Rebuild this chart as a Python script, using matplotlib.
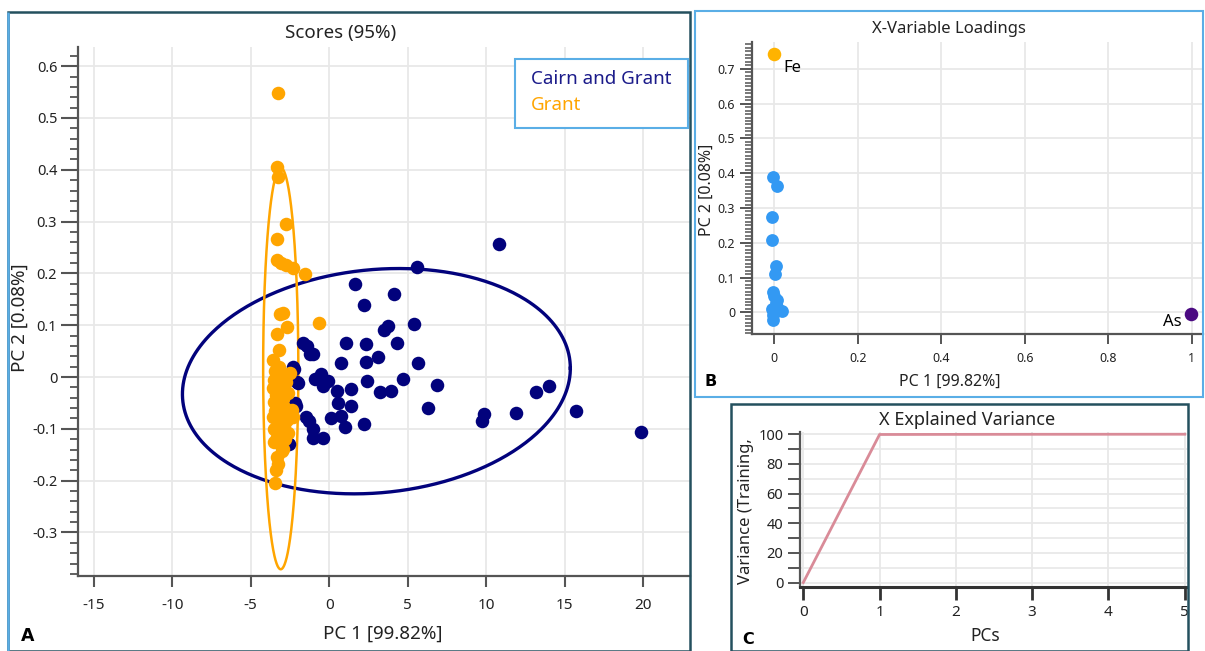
import numpy as np
import matplotlib
matplotlib.use("Agg")
import matplotlib.pyplot as plt
from matplotlib.patches import Rectangle
from matplotlib.ticker import MultipleLocator, FuncFormatter

plt.rcParams['font.family'] = ['Noto Sans', 'DejaVu Sans']

# ---------------- data ----------------
# Panel A: scores, group "Cairn and Grant"
cairn_x = [10.8, 5.57, 1.62, 4.14, 2.22, 5.39, 3.75, 3.5, 1.09, 2.32, 4.29, -1.41, -1.04,
           3.11, 0.77, 2.32, 5.63, -2.22, -0.94, -0.51, -0.08, -0.4, -2.0, 2.41, 4.71, 6.85,
           0.51, 1.36, 3.22, 3.92, 0.55, 1.36, -2.11, 6.31, -1.47, -1.26, 0.13, 0.72, 1.02,
           2.22, -1.04, -1.04, -0.4, -2.54, 9.83, 9.72, 11.86, 13.18, 13.99, 15.74, 19.85,
           -2.3, -2.07, -2.18, -1.65, -1.23]
cairn_y = [0.257, 0.212, 0.180, 0.161, 0.139, 0.103, 0.098, 0.090, 0.065, 0.063, 0.065, 0.060,
           0.044, 0.039, 0.028, 0.029, 0.028, 0.015, -0.004, 0.005, -0.008, -0.017, -0.011,
           -0.008, -0.003, -0.015, -0.027, -0.023, -0.029, -0.027, -0.050, -0.055, -0.056,
           -0.059, -0.077, -0.085, -0.079, -0.075, -0.097, -0.090, -0.101, -0.117, -0.118,
           -0.130, -0.071, -0.084, -0.070, -0.029, -0.017, -0.066, -0.106,
           0.020, -0.010, -0.051, 0.065, 0.045]

# Panel A: scores, group "Grant"
grant_x = [-3.26, -3.30, -3.28, -2.75, -3.35, -3.35, -3.07, -2.75, -2.32, -1.54, -3.14, -2.93,
           -0.64, -2.71, -3.35, -3.18, -3.57, -3.20, -2.71, -2.50, -3.45, -3.05, -3.55, -3.25,
           -2.90, -3.60, -3.10, -2.65, -3.40, -2.95, -3.55, -3.20, -2.40, -2.80, -3.45, -3.05,
           -2.29, -3.60, -2.70, -3.25, -2.90, -3.50, -3.10, -2.60, -3.35, -2.85, -3.55, -3.15,
           -2.95, -3.03, -3.35, -3.25, -3.46, -3.40, -2.75, -3.00]
grant_y = [0.548, 0.405, 0.386, 0.295, 0.266, 0.225, 0.221, 0.216, 0.211, 0.198, 0.122, 0.123,
           0.104, 0.097, 0.084, 0.052, 0.033, 0.020, 0.004, 0.008, 0.012, 0.000, -0.005, -0.012,
           -0.018, -0.022, -0.028, -0.030, -0.035, -0.042, -0.048, -0.052, -0.064, -0.060,
           -0.065, -0.070, -0.077, -0.078, -0.082, -0.088, -0.095, -0.100, -0.105, -0.108,
           -0.115, -0.120, -0.125, -0.130, -0.138, -0.142, -0.155, -0.168, -0.205, -0.180,
           -0.010, -0.090]

# 95% confidence ellipses (centre x, centre y, half-width, half-height, tilt)
cairn_ellipse = [3.0, -0.008, 12.35, 0.216, 0.025]
grant_ellipse = [-3.09, 0.0165, 1.12, 0.3875, 0.0]

# Panel B: loadings
load_x = [-0.003, 0.008, -0.005, -0.005, 0.004, 0.002, -0.002, 0.0, 0.004, 0.008, 0.018,
          -0.002, -0.002, 0.006, -0.006]
load_y = [0.390, 0.362, 0.274, 0.207, 0.132, 0.111, 0.060, 0.046, 0.027, 0.017, 0.005,
          -0.007, -0.023, 0.036, 0.010]
fe_xy = [0.0, 0.742]
as_xy = [0.998, -0.005]

# Panel C: explained variance
pcs = [0, 1, 2, 3, 4, 5]
variance = [0.0, 99.82, 99.90, 99.95, 99.98, 100.0]

# ---------------- style ----------------
NAVY = "#02027c"
ORANGE = "#ffa500"
BLUE = "#3399f3"
PURPLE = "#4b0a82"
GRID = "#e8e8e8"
SPINE = "#555555"
TXT = "#222222"
LIGHTBLUE = "#5aaee6"
TEAL = "#24505e"
BOLD_FONT = ["DejaVu Sans"]

W, H = 1205, 651
fig = plt.figure(figsize=(W / 100, H / 100), dpi=100)


def fx(px):
    return px / W


def fy(py):
    return 1 - py / H


def axes_px(l, t, r, b):
    return fig.add_axes([fx(l), fy(b), fx(r) - fx(l), fy(t) - fy(b)])


def fmt(v, pos):
    v = round(v, 6)
    if abs(v) < 1e-9:
        return "0"
    return f"{v:g}"


# panel frames
fig.patches.append(Rectangle((fx(8), fy(651)), fx(690) - fx(8), fy(12) - fy(651),
                             transform=fig.transFigure, fill=False, ec=TEAL, lw=1.8))
fig.patches.append(Rectangle((fx(8), fy(651)), 0, fy(12) - fy(651),
                             transform=fig.transFigure, fill=False, ec=LIGHTBLUE, lw=1.8))
fig.patches.append(Rectangle((fx(695), fy(397)), fx(1203) - fx(695), fy(11) - fy(397),
                             transform=fig.transFigure, fill=False, ec=LIGHTBLUE, lw=1.5))
fig.patches.append(Rectangle((fx(731), fy(651)), fx(1188) - fx(731), fy(404) - fy(651),
                             transform=fig.transFigure, fill=False, ec=TEAL, lw=1.8))


def style_axes(ax):
    for s in ("top", "right"):
        ax.spines[s].set_visible(False)
    for s in ("left", "bottom"):
        ax.spines[s].set_color(SPINE)
        ax.spines[s].set_linewidth(1.6)
    ax.grid(True, which="major", color=GRID, lw=1.3, zorder=0)
    ax.set_axisbelow(True)
    ax.xaxis.set_major_formatter(FuncFormatter(fmt))
    ax.yaxis.set_major_formatter(FuncFormatter(fmt))


# ---------------- Panel A ----------------
axA = axes_px(78, 47, 690, 576)
style_axes(axA)
t = np.linspace(0, 2 * np.pi, 400)
for (cx, cy, a, b, c), col, lw in ((cairn_ellipse, NAVY, 2.4), (grant_ellipse, ORANGE, 1.8)):
    axA.plot(cx + a * np.cos(t), cy + b * np.sin(t) + c * np.cos(t), color=col, lw=lw, zorder=2)
axA.scatter(cairn_x, cairn_y, s=95, color=NAVY, lw=0, zorder=3)
axA.scatter(grant_x, grant_y, s=95, color=ORANGE, lw=0, zorder=4)
axA.set_xlim(-16.0, 22.97)
axA.set_ylim(-0.384, 0.637)
axA.xaxis.set_major_locator(MultipleLocator(5))
axA.yaxis.set_major_locator(MultipleLocator(0.1))
axA.yaxis.set_minor_locator(MultipleLocator(0.02))
axA.tick_params(axis="x", which="major", length=8, width=1.5, color=SPINE, labelsize=11,
                labelcolor=TXT, pad=8)
axA.tick_params(axis="y", which="major", length=12, width=1.5, color=SPINE, labelsize=10.5,
                labelcolor=TXT, pad=3)
axA.tick_params(axis="y", which="minor", length=6, width=1.3, color=SPINE)

fig.text(fx(341), fy(33), "Scores (95%)", ha="center", va="center", fontsize=13.5, color=TXT)
fig.text(fx(383), fy(634), "PC 1 [99.82%]", ha="center", va="center", fontsize=13.5, color=TXT)
fig.text(fx(20), fy(318), "PC 2 [0.08%]", ha="center", va="center", rotation=90,
         fontsize=13.5, color=TXT)
fig.text(fx(28), fy(636), "A", ha="center", va="center", fontsize=12.5, fontweight="bold",
         color="black", family=BOLD_FONT)

# legend box
fig.patches.append(Rectangle((fx(515), fy(128)), fx(688) - fx(515), fy(59) - fy(128),
                             transform=fig.transFigure, fill=True, fc="white",
                             ec=LIGHTBLUE, lw=1.5, zorder=5))
fig.text(fx(531), fy(79), "Cairn and Grant", ha="left", va="center", fontsize=13.5,
         color="#1b1b8a", zorder=6)
fig.text(fx(531), fy(105), "Grant", ha="left", va="center", fontsize=13.5,
         color=ORANGE, zorder=6)

# ---------------- Panel B ----------------
axB = axes_px(752, 42, 1203, 334)
style_axes(axB)
axB.scatter(load_x, load_y, s=85, color=BLUE, lw=0, zorder=3)
axB.scatter([fe_xy[0]], [fe_xy[1]], s=95, color="#ffb300", lw=0, zorder=3)
axB.scatter([as_xy[0]], [as_xy[1]], s=95, color=PURPLE, lw=0, zorder=3)
axB.annotate("Fe", (fe_xy[0], fe_xy[1]), xytext=(7, -10), textcoords="offset points",
             fontsize=12, color="black", ha="left", va="center")
axB.annotate("As", (as_xy[0], as_xy[1]), xytext=(-7, -6), textcoords="offset points",
             fontsize=12, color="black", ha="right", va="center")
axB.set_xlim(-0.053, 1.027)
axB.set_ylim(-0.062, 0.777)
axB.xaxis.set_major_locator(MultipleLocator(0.2))
axB.yaxis.set_major_locator(MultipleLocator(0.1))
axB.yaxis.set_minor_locator(MultipleLocator(0.01))
axB.tick_params(axis="x", which="major", length=7, width=1.4, color=SPINE, labelsize=9,
                labelcolor=TXT, pad=6)
axB.tick_params(axis="y", which="major", length=9, width=1.4, color=SPINE, labelsize=9,
                labelcolor=TXT, pad=3)
axB.tick_params(axis="y", which="minor", length=5, width=1.1, color=SPINE)

fig.text(fx(949), fy(29), "X-Variable Loadings", ha="center", va="center", fontsize=12,
         color=TXT)
fig.text(fx(950), fy(382), "PC 1 [99.82%]", ha="center", va="center", fontsize=11.5, color=TXT)
fig.text(fx(707), fy(190), "PC 2 [0.08%]", ha="center", va="center", rotation=90,
         fontsize=11.5, color=TXT)
fig.text(fx(711), fy(381), "B", ha="center", va="center", fontsize=11.5, fontweight="bold",
         color="black", family=BOLD_FONT)

# ---------------- Panel C ----------------
axC = axes_px(800, 432, 1187, 587)
style_axes(axC)
axC.plot(pcs, variance, color="#d98b98", lw=2, zorder=3)
axC.set_xlim(-0.043, 5.03)
axC.set_ylim(-3, 101.5)
axC.xaxis.set_major_locator(MultipleLocator(1))
axC.yaxis.set_major_locator(MultipleLocator(20))
axC.yaxis.set_minor_locator(MultipleLocator(10))
axC.grid(True, which="minor", axis="y", color=GRID, lw=1.2)
axC.spines["bottom"].set_linewidth(2.2)
axC.spines["bottom"].set_color("#333333")
axC.tick_params(axis="x", which="major", length=9, width=2, color="#333333", labelsize=11,
                labelcolor=TXT, pad=4)
axC.tick_params(axis="y", which="both", length=9, width=1.4, color=SPINE, labelsize=10.5,
                labelcolor=TXT, pad=3)

fig.text(fx(967), fy(420), "X Explained Variance", ha="center", va="center", fontsize=13,
         color=TXT)
fig.text(fx(985), fy(636), "PCs", ha="center", va="center", fontsize=12.5, color=TXT)
fig.text(fx(746), fy(511), "Variance (Training,", ha="center", va="center", rotation=90,
         fontsize=12, color=TXT)
fig.text(fx(748), fy(640), "C", ha="center", va="center", fontsize=11.5, fontweight="bold",
         color="black", family=BOLD_FONT)

fig.savefig("out.png", dpi=100)
